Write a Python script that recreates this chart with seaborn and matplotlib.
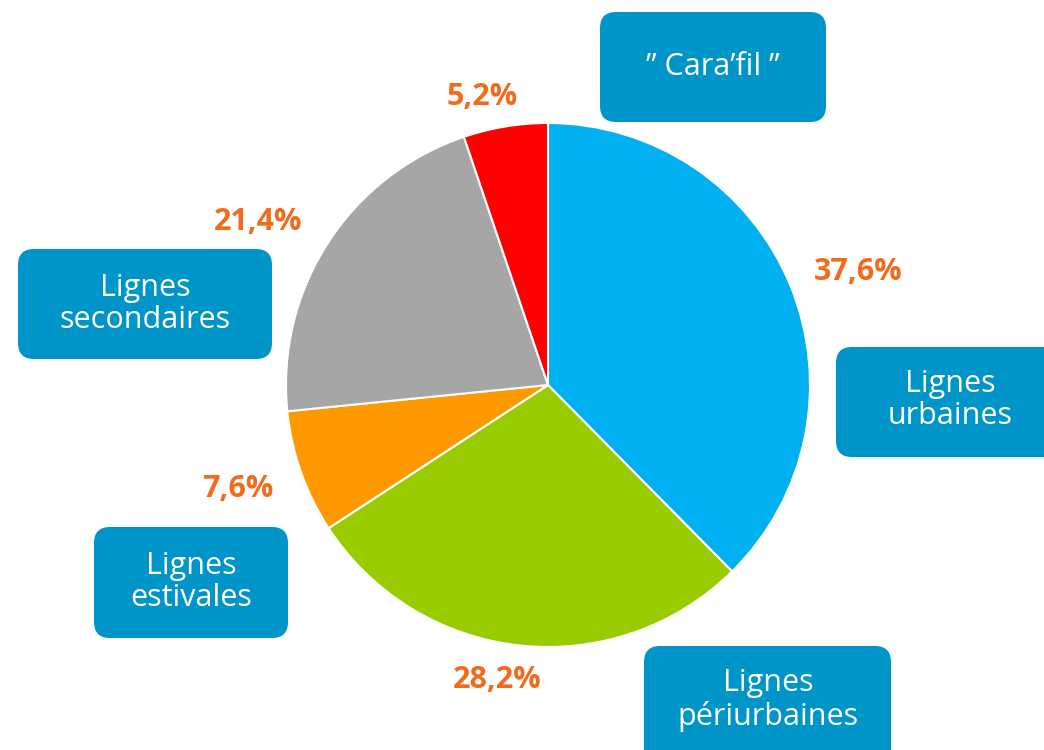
import matplotlib
matplotlib.use("Agg")
import matplotlib.pyplot as plt
from matplotlib.patches import FancyBboxPatch
import seaborn as sns

categories = ["Lignes\nurbaines", "Lignes\npériurbaines", "Lignes\nestivales", "Lignes\nsecondaires", "\u201d Cara\u2019fil \u201d"]
values = [37.6, 28.2, 7.6, 21.4, 5.2]
pct_labels = ["37,6%", "28,2%", "7,6%", "21,4%", "5,2%"]
colors = ["#00B0F0", "#99CC00", "#FF9900", "#A6A6A6", "#FF0000"]

sns.set_theme(style="white")
plt.rcParams['font.family'] = ['Open Sans', 'DejaVu Sans']

fig = plt.figure(figsize=(10.44, 7.5), dpi=100)
ax = fig.add_axes([0, 0, 1, 1])

# y axis is inverted below, so data angle -90 is screen top and
# counterclockwise in data appears clockwise on screen
ax.pie(values, colors=colors, startangle=-90, counterclock=True,
       center=(548, 385), radius=262, frame=True,
       wedgeprops=dict(edgecolor='white', linewidth=1.5))
ax.set_xlim(0, 1044)
ax.set_ylim(750, 0)
ax.set_aspect('equal')
ax.axis('off')

# percent label positions (pixel layout)
pct_pos = [(858, 272), (497, 680), (238, 489), (258, 222), (482, 97)]
for (x, y), t in zip(pct_pos, pct_labels):
    ax.text(x, y, t, color="#F26B1D", fontsize=22, fontweight='bold',
            ha='center', va='center')

# label boxes (x0, y0, x1, y1)
boxes = [(836, 347, 1060, 457), (644, 646, 891, 770), (94, 527, 288, 638),
         (18, 249, 272, 359), (600, 12, 826, 122)]
text_pos = [(950, 400), (768, 700), (191, 582), (145, 304), (713, 67)]
box_color = "#0095C8"
for (x0, y0, x1, y1), (tx, ty), lab in zip(boxes, text_pos, categories):
    p = FancyBboxPatch((x0 + 14, y0 + 14), (x1 - x0) - 28, (y1 - y0) - 28,
                       boxstyle="round,pad=14,rounding_size=16",
                       facecolor=box_color, edgecolor='none', clip_on=False)
    ax.add_patch(p)
    ax.text(tx, ty, lab, color='white', fontsize=22, fontweight='medium',
            ha='center', va='center', linespacing=1.12)

fig.savefig("out.png", dpi=100)
